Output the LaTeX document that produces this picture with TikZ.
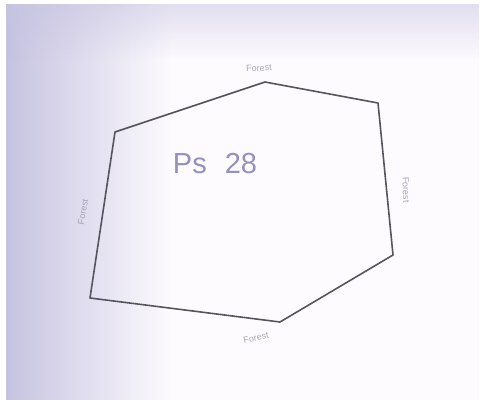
\documentclass[tikz,border=0pt]{standalone}
\usepackage{fontspec}
\setsansfont{Liberation Sans}
\usetikzlibrary{fadings}
\definecolor{paper}{HTML}{FDFBFE}
\definecolor{shadow}{HTML}{C6C3E1}
\definecolor{pencil}{HTML}{56555E}
\definecolor{ink}{HTML}{9391BE}
\definecolor{faint}{HTML}{A9A7B4}
\tikzset{
  edge/.style={draw=pencil, line width=1.6pt, line join=round},
  forest/.style={text=faint, font=\sffamily\fontsize{9}{10}\selectfont, inner sep=1pt}
}
\begin{document}
\begin{tikzpicture}[x=1pt,y=-1pt]
\useasboundingbox (0,0) rectangle (481,405);
\fill[white] (0,0) rectangle (481,405);
\fill[paper] (6,4) rectangle (479,400);
\fill[shadow, path fading=east] (6,4) rectangle (170,400);
\fill[shadow, opacity=0.5, path fading=south] (6,4) rectangle (479,60);
% the plot
\coordinate (top) at (265,82);
\coordinate (topright) at (378,103);
\coordinate (right) at (393,255);
\coordinate (bottom) at (280,322);
\coordinate (bottomleft) at (90,298);
\coordinate (left) at (115,132);
\draw[edge] (top) -- (topright) -- (right) -- (bottom) -- (bottomleft) -- (left) -- cycle;
\node[text=ink, font=\sffamily\fontsize{29}{32}\selectfont] (ps) at (215,164) {Ps\hspace{18pt}28};
% forests round it
\node[forest, rotate=3] (ftop) at (259,68) {Forest};
\node[forest, rotate=-88] (fright) at (406,190) {Forest};
\node[forest, rotate=80] (fleft) at (83,212) {Forest};
\node[forest, rotate=12] (fbottom) at (256,338) {Forest};
\end{tikzpicture}
\end{document}
